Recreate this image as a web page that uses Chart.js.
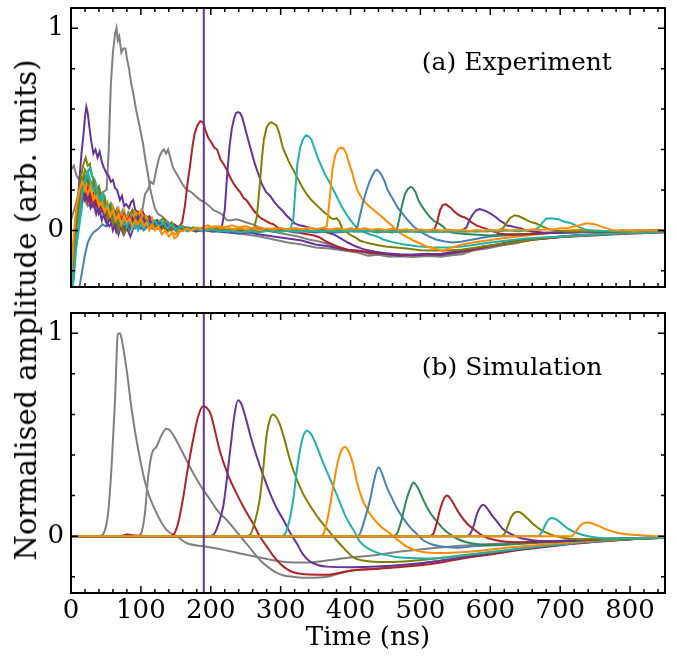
<!DOCTYPE html>
<html>
<head>
<meta charset="utf-8">
<script src="https://cdn.jsdelivr.net/npm/chart.js@4.4.0/dist/chart.umd.min.js"></script>
<style>
  body { margin: 0; background: #fff; }
  #wrap { position: relative; width: 677px; height: 657px; }
  #topPanel { position: absolute; left: 0; top: 0; }
  #botPanel { position: absolute; left: 0; top: 300px; }
  #ylab {
    position: absolute; left: 26px; top: 310px;
    transform: translate(-50%, -50%) rotate(-90deg);
    font-family: 'DejaVu Serif'; font-size: 29px; white-space: nowrap; color: #000;
  }
</style>
</head>
<body>
<div id="wrap">
  <canvas id="topPanel" width="677" height="300"></canvas>
  <canvas id="botPanel" width="677" height="357"></canvas>
  <div id="ylab">Normalised amplitude (arb. units)</div>
</div>
<script>
// Axis ranges and tick labels
const timeRange = [0, 850];
const ampRange = [-0.28, 1.1];
const xTickLabels = [0, 100, 200, 300, 400, 500, 600, 700, 800];
const yTickLabels = [0, 1];
const markerTime = 190;
const panelLabelAt = [502, 0.795];

// Colours of the successive pulses
const C = {
  gray: '#808080', purple: '#663399', red: '#b22222', olive: '#808000',
  teal: '#20b2aa', orange: '#ff8c00', blue: '#4682b4', green: '#2e8b57'
};

// ---- (a) Experiment: [time ns, amplitude] ----
const expGray1 = [[0,0.3],[4,0.32],[8,0.27],[12,0.25],[16,0.22],[22,0.24],[28,0.2],[34,0.22],[40,0.18],[46,0.19],[51,0.2],[54,0.4],[57,0.72],[60,0.88],[63,0.97],[65,1.0],[67,0.94],[69,0.96],[72,0.88],[75,0.9],[78,0.9],[80,0.85],[83,0.8],[86,0.73],[89,0.68],[93,0.6],[96,0.55],[99,0.5],[103,0.43],[106,0.36],[110,0.28],[113,0.21],[117,0.15],[120,0.11],[125,0.08],[130,0.07],[136,0.05],[142,0.03],[150,0.02],[160,0.015],[170,0.01],[180,0.005],[190,0.0],[200,0.0],[215,-0.005],[230,-0.01],[250,-0.02],[270,-0.03],[290,-0.045],[310,-0.06],[330,-0.07],[350,-0.085],[370,-0.09],[390,-0.1],[410,-0.11],[425,-0.125],[440,-0.12],[455,-0.13],[470,-0.128],[490,-0.132],[510,-0.127],[530,-0.13],[545,-0.123],[560,-0.118],[575,-0.1],[595,-0.09],[615,-0.075],[635,-0.065],[655,-0.05],[671,-0.042],[690,-0.035],[710,-0.032],[730,-0.027],[750,-0.025],[770,-0.02],[790,-0.018],[810,-0.015],[830,-0.012],[850,-0.01]];
const expGray2 = [[0,0.05],[6,0.12],[12,0.2],[18,0.16],[24,0.12],[30,0.14],[36,0.1],[42,0.12],[50,0.08],[58,0.1],[66,0.07],[74,0.08],[82,0.05],[90,0.06],[96,0.05],[102,0.1],[106,0.18],[110,0.2],[114,0.24],[118,0.23],[122,0.3],[126,0.36],[130,0.39],[133,0.4],[136,0.38],[139,0.4],[142,0.36],[146,0.31],[151,0.28],[156,0.25],[161,0.22],[166,0.2],[172,0.19],[178,0.17],[185,0.15],[191,0.14],[198,0.12],[204,0.1],[210,0.09],[216,0.08],[223,0.05],[230,0.05],[236,0.055],[242,0.05],[250,0.04],[260,0.03],[270,0.015],[280,0.005],[295,-0.01],[310,-0.02],[325,-0.03],[340,-0.045],[355,-0.055],[370,-0.07],[385,-0.085],[400,-0.1],[415,-0.105],[430,-0.118],[445,-0.12],[460,-0.125],[480,-0.122],[500,-0.125],[520,-0.12],[540,-0.122],[560,-0.11],[580,-0.095],[600,-0.082],[620,-0.07],[640,-0.058],[660,-0.046],[680,-0.04],[700,-0.033],[720,-0.03],[745,-0.025],[770,-0.02],[795,-0.017],[820,-0.013],[850,-0.008]];
const expPurple1 = [[0,-0.26],[3,-0.15],[6,0.0],[9,0.1],[12,0.25],[15,0.38],[18,0.48],[20,0.56],[22,0.61],[24,0.58],[26,0.52],[29,0.44],[32,0.38],[35,0.4],[38,0.36],[41,0.39],[44,0.34],[47,0.31],[51,0.28],[54,0.27],[57,0.24],[60,0.25],[63,0.21],[66,0.2],[70,0.15],[73,0.17],[76,0.12],[79,0.13],[83,0.11],[86,0.14],[89,0.15],[92,0.1],[96,0.09],[99,0.07],[103,0.09],[107,0.06],[112,0.07],[117,0.04],[122,0.05],[127,0.03],[133,0.04],[140,0.02],[148,0.025],[156,0.01],[165,0.015],[175,0.005],[185,0.01],[195,0.0],[210,-0.005],[225,-0.01],[240,-0.015],[255,-0.01],[270,-0.02],[290,-0.03],[310,-0.04],[330,-0.05],[350,-0.07],[370,-0.08],[390,-0.095],[410,-0.1],[430,-0.11],[450,-0.115],[470,-0.125],[490,-0.12],[510,-0.118],[530,-0.115],[550,-0.105],[570,-0.095],[590,-0.08],[610,-0.07],[630,-0.055],[650,-0.045],[670,-0.04],[690,-0.035],[710,-0.028],[735,-0.022],[760,-0.02],[785,-0.016],[810,-0.012],[850,-0.008]];
const expRed1 = [[0,-0.3],[4,-0.12],[8,0.05],[12,0.14],[16,0.2],[20,0.17],[24,0.22],[28,0.15],[32,0.18],[36,0.12],[40,0.14],[45,0.1],[50,0.12],[55,0.07],[60,0.09],[65,0.05],[70,0.08],[76,0.04],[82,0.07],[88,0.1],[94,0.06],[100,0.08],[106,0.04],[112,0.06],[118,0.03],[124,0.05],[130,0.02],[136,0.035],[142,0.015],[148,0.03],[154,0.01],[159,0.04],[163,0.12],[167,0.24],[170,0.31],[174,0.42],[177,0.48],[181,0.52],[185,0.54],[189,0.535],[192,0.5],[196,0.46],[200,0.44],[205,0.41],[209,0.4],[214,0.35],[218,0.33],[223,0.3],[228,0.26],[233,0.23],[237,0.21],[242,0.19],[247,0.16],[251,0.15],[256,0.125],[261,0.1],[266,0.08],[270,0.065],[275,0.055],[280,0.045],[285,0.035],[290,0.03],[295,0.015],[300,0.01],[308,0.0],[316,-0.005],[324,-0.01],[332,-0.015],[340,-0.02],[348,-0.025],[356,-0.035],[365,-0.055],[375,-0.07],[385,-0.085],[399,-0.1],[415,-0.105],[430,-0.11],[450,-0.115],[470,-0.12],[490,-0.123],[510,-0.118],[530,-0.12],[550,-0.11],[570,-0.1],[590,-0.085],[610,-0.072],[630,-0.06],[650,-0.05],[670,-0.042],[690,-0.036],[710,-0.03],[735,-0.025],[760,-0.02],[785,-0.015],[810,-0.012],[850,-0.008]];
const expPurple2 = [[0,-0.28],[4,-0.1],[8,0.08],[12,0.18],[16,0.25],[20,0.21],[24,0.16],[28,0.19],[32,0.12],[36,0.14],[40,0.08],[45,0.1],[50,0.04],[55,0.02],[60,0.05],[65,-0.01],[70,0.03],[75,-0.02],[80,0.01],[85,-0.03],[90,0.02],[95,0.05],[100,0.01],[105,0.04],[110,0.02],[116,0.05],[122,0.03],[128,0.04],[134,0.02],[140,0.03],[148,0.01],[156,0.02],[164,0.0],[172,0.01],[180,-0.005],[190,0.005],[200,0.0],[210,0.005],[216,0.02],[220,0.1],[224,0.3],[227,0.42],[230,0.5],[233,0.55],[236,0.58],[239,0.585],[242,0.58],[245,0.56],[248,0.52],[251,0.48],[255,0.43],[259,0.38],[263,0.33],[268,0.28],[273,0.23],[279,0.19],[285,0.17],[290,0.145],[296,0.12],[302,0.1],[308,0.075],[314,0.055],[320,0.035],[327,0.025],[334,0.02],[340,0.015],[346,0.01],[356,0.0],[366,-0.01],[376,-0.02],[386,-0.04],[396,-0.06],[408,-0.08],[420,-0.095],[435,-0.105],[450,-0.113],[470,-0.118],[490,-0.12],[510,-0.116],[530,-0.12],[550,-0.108],[570,-0.095],[590,-0.082],[610,-0.07],[630,-0.058],[650,-0.048],[670,-0.04],[690,-0.034],[710,-0.028],[735,-0.023],[760,-0.018],[785,-0.014],[810,-0.011],[850,-0.007]];
const expOlive1 = [[0,-0.29],[4,-0.1],[8,0.08],[12,0.2],[15,0.28],[18,0.33],[21,0.36],[24,0.32],[27,0.33],[30,0.27],[33,0.25],[36,0.2],[40,0.22],[44,0.15],[48,0.17],[52,0.1],[56,0.13],[60,0.08],[64,0.05],[68,0.09],[72,0.04],[76,0.07],[80,0.02],[84,0.06],[88,0.1],[92,0.06],[96,0.09],[100,0.05],[105,0.07],[110,0.03],[115,0.06],[120,0.02],[126,0.04],[132,0.06],[138,0.02],[144,0.04],[150,0.01],[158,0.025],[166,0.005],[175,0.015],[185,0.0],[195,0.01],[205,0.005],[215,0.012],[225,0.0],[235,0.008],[245,0.0],[255,0.005],[262,0.01],[266,0.07],[270,0.22],[273,0.35],[276,0.45],[280,0.51],[284,0.53],[287,0.535],[291,0.525],[294,0.52],[298,0.48],[303,0.41],[308,0.37],[313,0.33],[318,0.3],[324,0.26],[330,0.22],[337,0.18],[344,0.15],[350,0.13],[356,0.11],[362,0.09],[368,0.075],[372,0.06],[376,0.055],[380,0.06],[384,0.045],[389,0.0],[395,-0.01],[401,-0.025],[407,-0.035],[413,-0.05],[420,-0.058],[428,-0.065],[438,-0.072],[450,-0.08],[465,-0.085],[480,-0.09],[500,-0.098],[520,-0.1],[540,-0.1],[560,-0.095],[580,-0.085],[600,-0.075],[620,-0.065],[640,-0.055],[660,-0.045],[680,-0.038],[700,-0.032],[725,-0.026],[750,-0.021],[775,-0.017],[800,-0.013],[825,-0.01],[850,-0.007]];
const expTeal1 = [[0,-0.3],[4,-0.25],[7,-0.1],[11,0.0],[15,0.1],[19,0.2],[23,0.28],[27,0.31],[30,0.27],[34,0.25],[38,0.2],[42,0.17],[46,0.18],[50,0.12],[54,0.1],[58,0.13],[62,0.08],[66,0.11],[70,0.07],[74,0.1],[78,0.05],[82,0.09],[86,0.06],[90,0.08],[94,0.04],[98,0.07],[102,0.03],[107,0.06],[112,0.02],[117,0.05],[122,0.03],[128,0.05],[134,0.02],[140,0.035],[146,0.01],[152,0.02],[160,0.0],[168,0.015],[176,0.005],[186,0.01],[196,0.0],[206,-0.005],[216,0.005],[226,-0.01],[236,0.0],[246,-0.005],[256,0.0],[266,0.005],[276,0.0],[286,0.005],[296,0.0],[306,0.005],[314,0.01],[318,0.05],[321,0.2],[324,0.33],[328,0.41],[332,0.45],[336,0.47],[340,0.465],[344,0.45],[348,0.41],[353,0.36],[358,0.32],[363,0.28],[368,0.25],[374,0.21],[380,0.17],[387,0.12],[394,0.08],[400,0.05],[406,0.025],[413,0.0],[420,-0.01],[428,-0.02],[438,-0.03],[447,-0.045],[460,-0.058],[475,-0.068],[495,-0.078],[515,-0.083],[540,-0.085],[560,-0.08],[580,-0.07],[600,-0.06],[625,-0.05],[650,-0.04],[675,-0.035],[700,-0.03],[725,-0.025],[750,-0.02],[775,-0.016],[800,-0.012],[825,-0.009],[850,-0.006]];
const expOrange1 = [[0,-0.28],[4,-0.05],[8,0.1],[12,0.18],[16,0.22],[20,0.19],[24,0.25],[28,0.2],[32,0.16],[36,0.19],[40,0.13],[44,0.16],[48,0.11],[52,0.14],[56,0.09],[60,0.12],[64,0.08],[68,0.11],[72,0.06],[76,0.1],[80,0.05],[84,0.08],[88,0.04],[92,0.09],[96,0.07],[100,0.1],[104,0.05],[108,0.07],[112,0.03],[116,0.06],[120,0.02],[124,0.04],[128,0.0],[133,0.03],[138,-0.01],[143,0.02],[148,-0.04],[152,-0.03],[156,0.0],[162,0.01],[168,-0.005],[175,0.01],[182,0.0],[190,0.02],[196,0.025],[202,0.015],[210,0.02],[220,0.015],[230,0.025],[240,0.015],[250,0.02],[260,0.01],[270,0.015],[280,0.0],[290,0.01],[300,0.005],[310,0.0],[320,0.01],[330,0.005],[340,0.015],[350,0.005],[360,0.01],[366,0.02],[370,0.15],[374,0.3],[378,0.37],[382,0.4],[386,0.41],[390,0.405],[394,0.38],[398,0.33],[402,0.29],[406,0.24],[411,0.19],[416,0.16],[423,0.13],[430,0.11],[437,0.09],[444,0.07],[452,0.045],[460,0.02],[466,0.0],[474,-0.02],[482,-0.035],[490,-0.05],[500,-0.065],[509,-0.08],[520,-0.09],[532,-0.1],[545,-0.085],[560,-0.07],[575,-0.06],[595,-0.05],[615,-0.04],[640,-0.03],[665,-0.02],[690,-0.01],[710,0.0],[730,0.005],[750,0.0],[775,-0.005],[800,-0.005],[825,-0.003],[850,-0.002]];
const expBlue1 = [[0,-0.35],[8,-0.33],[12,-0.28],[16,-0.2],[20,-0.12],[24,-0.06],[28,-0.03],[32,-0.01],[36,0.0],[40,0.01],[45,0.03],[50,0.02],[55,0.05],[60,0.04],[65,0.06],[70,0.03],[75,0.05],[80,0.02],[86,0.04],[92,0.01],[98,0.03],[104,0.0],[110,0.02],[116,0.01],[122,0.03],[128,0.0],[134,0.02],[140,0.0],[146,0.01],[152,-0.01],[160,0.0],[170,0.01],[180,0.0],[190,0.005],[200,-0.005],[215,0.0],[230,-0.01],[245,-0.005],[260,-0.01],[275,0.0],[290,-0.005],[305,0.0],[320,-0.01],[335,-0.005],[350,-0.01],[365,-0.005],[380,-0.01],[395,-0.005],[405,0.0],[410,0.02],[414,0.08],[418,0.14],[423,0.2],[427,0.24],[431,0.27],[435,0.295],[438,0.3],[441,0.29],[445,0.27],[449,0.24],[453,0.2],[458,0.17],[463,0.14],[468,0.11],[475,0.08],[482,0.05],[490,0.02],[497,0.0],[504,-0.015],[512,-0.03],[522,-0.045],[535,-0.055],[547,-0.06],[560,-0.055],[575,-0.045],[599,-0.03],[620,-0.025],[645,-0.02],[670,-0.015],[700,-0.01],[730,-0.008],[760,-0.005],[790,-0.003],[820,-0.002],[850,0.0]];
const expGreen1 = [[0,-0.25],[4,-0.08],[8,0.07],[12,0.16],[16,0.22],[20,0.27],[24,0.24],[28,0.21],[32,0.23],[36,0.17],[40,0.2],[44,0.13],[48,0.15],[52,0.1],[56,0.12],[60,0.06],[64,0.09],[68,0.03],[72,0.05],[76,0.01],[80,0.04],[84,0.0],[88,0.03],[92,0.05],[96,0.02],[100,0.06],[104,0.03],[108,0.05],[113,0.02],[118,0.04],[124,0.01],[130,0.03],[136,0.0],[142,0.02],[150,0.005],[158,0.015],[166,0.0],[176,0.01],[186,0.005],[198,0.0],[210,0.008],[222,0.0],[234,0.006],[246,0.0],[258,0.005],[270,-0.005],[282,0.005],[294,0.0],[306,0.005],[318,-0.005],[330,0.0],[342,-0.005],[354,0.0],[366,-0.01],[378,0.0],[390,-0.005],[402,0.0],[414,-0.005],[426,0.0],[438,-0.01],[450,-0.005],[460,-0.01],[466,0.0],[470,0.06],[474,0.13],[478,0.18],[482,0.205],[486,0.215],[489,0.21],[493,0.19],[497,0.15],[502,0.12],[508,0.09],[514,0.065],[520,0.045],[526,0.035],[532,0.02],[538,0.0],[545,-0.01],[555,-0.015],[575,-0.02],[600,-0.025],[625,-0.02],[650,-0.018],[680,-0.012],[710,-0.008],[740,-0.006],[770,-0.004],[800,-0.003],[830,-0.001],[850,0.0]];
const expRed2 = [[0,-0.3],[4,-0.15],[8,0.0],[12,0.1],[16,0.15],[20,0.18],[24,0.14],[28,0.17],[32,0.12],[36,0.15],[40,0.1],[44,0.13],[48,0.08],[52,0.11],[56,0.07],[60,0.1],[64,0.06],[68,0.09],[72,0.05],[76,0.08],[80,0.04],[84,0.07],[88,0.03],[92,0.06],[96,0.03],[100,0.05],[105,0.02],[110,0.04],[115,0.02],[120,0.03],[126,0.01],[132,0.02],[138,0.0],[146,0.015],[154,0.0],[164,0.01],[174,0.0],[186,0.005],[198,0.0],[212,0.006],[226,0.0],[240,0.005],[255,-0.002],[270,0.004],[285,0.0],[300,0.005],[315,-0.003],[330,0.003],[345,-0.004],[360,0.002],[375,-0.003],[390,0.002],[405,-0.005],[420,0.0],[435,-0.005],[450,0.0],[465,-0.006],[480,0.0],[495,-0.005],[510,0.0],[520,0.005],[524,0.04],[528,0.1],[532,0.125],[536,0.13],[540,0.12],[544,0.11],[548,0.095],[553,0.08],[558,0.07],[563,0.065],[568,0.055],[573,0.04],[580,0.025],[588,0.015],[596,0.005],[604,-0.005],[613,-0.015],[623,-0.02],[640,-0.02],[660,-0.018],[680,-0.014],[705,-0.01],[730,-0.008],[760,-0.005],[790,-0.003],[820,-0.002],[850,0.0]];
const expPurple3 = [[0,-0.27],[4,-0.05],[8,0.1],[12,0.16],[16,0.2],[20,0.15],[24,0.18],[28,0.11],[32,0.14],[36,0.08],[40,0.12],[44,0.05],[48,0.09],[52,0.03],[56,0.07],[60,0.0],[64,0.04],[68,-0.02],[72,0.03],[76,0.0],[80,0.05],[84,0.02],[88,0.06],[92,0.03],[96,0.07],[100,0.04],[104,0.06],[108,0.02],[113,0.05],[118,0.01],[124,0.04],[130,0.01],[136,0.03],[142,0.0],[150,0.02],[158,0.0],[168,0.01],[178,-0.005],[190,0.005],[202,-0.005],[215,0.0],[230,-0.005],[245,0.0],[260,-0.008],[275,0.0],[290,-0.005],[305,0.0],[320,-0.006],[335,0.0],[350,-0.005],[365,0.0],[380,-0.006],[395,0.0],[410,-0.004],[425,0.0],[440,-0.005],[455,0.0],[470,-0.006],[485,0.0],[500,-0.005],[515,0.0],[530,-0.005],[545,0.0],[558,-0.003],[566,0.015],[570,0.05],[575,0.08],[580,0.1],[585,0.105],[590,0.1],[594,0.095],[599,0.085],[604,0.075],[608,0.065],[613,0.05],[618,0.04],[623,0.025],[630,0.02],[637,0.015],[644,0.01],[651,0.0],[660,-0.005],[675,-0.01],[695,-0.012],[720,-0.01],[745,-0.008],[775,-0.005],[805,-0.003],[830,-0.002],[850,0.0]];
const expOlive2 = [[0,-0.3],[4,-0.12],[8,0.05],[12,0.15],[16,0.24],[20,0.3],[24,0.27],[28,0.22],[32,0.25],[36,0.18],[40,0.2],[44,0.12],[48,0.15],[52,0.06],[56,0.1],[60,0.03],[64,0.07],[68,0.0],[72,0.04],[76,-0.02],[80,0.02],[84,0.05],[88,0.02],[92,0.06],[96,0.03],[100,0.05],[104,0.02],[110,0.04],[116,0.01],[122,0.03],[128,0.0],[134,0.02],[140,0.0],[148,0.015],[156,0.0],[166,0.01],[176,0.0],[188,0.008],[200,0.0],[214,0.005],[228,-0.002],[242,0.004],[256,0.0],[270,0.005],[284,-0.003],[298,0.003],[312,-0.004],[326,0.002],[340,-0.004],[354,0.0],[368,-0.005],[382,0.0],[396,-0.005],[410,-0.002],[424,-0.006],[438,-0.002],[452,-0.006],[466,-0.003],[480,-0.007],[494,-0.004],[508,-0.007],[522,-0.004],[536,-0.007],[550,-0.004],[565,-0.006],[580,-0.003],[595,-0.005],[610,0.0],[618,0.01],[622,0.03],[628,0.06],[635,0.075],[641,0.07],[647,0.06],[653,0.05],[659,0.04],[665,0.035],[671,0.025],[678,0.015],[685,0.005],[695,0.0],[710,-0.005],[730,-0.006],[755,-0.005],[780,-0.004],[810,-0.002],[850,0.0]];
const expTeal2 = [[0,-0.3],[4,-0.2],[8,-0.05],[12,0.08],[16,0.18],[20,0.25],[24,0.29],[28,0.24],[32,0.2],[36,0.22],[40,0.15],[44,0.17],[48,0.11],[52,0.13],[56,0.08],[60,0.1],[64,0.05],[68,0.08],[72,0.03],[76,0.06],[80,0.02],[84,0.05],[88,0.01],[92,0.04],[96,0.0],[100,0.03],[105,0.01],[110,0.04],[115,0.02],[120,0.05],[126,0.02],[132,0.04],[138,0.01],[144,0.03],[150,0.0],[158,0.02],[166,-0.005],[176,0.01],[188,-0.005],[200,0.005],[214,-0.005],[228,0.0],[242,-0.01],[256,-0.003],[270,-0.01],[284,0.0],[298,-0.008],[312,0.0],[326,-0.006],[340,0.0],[354,-0.004],[368,0.0],[382,-0.005],[396,-0.002],[410,-0.006],[424,-0.002],[438,-0.007],[452,-0.003],[466,-0.008],[480,-0.004],[494,-0.008],[508,-0.004],[522,-0.008],[536,-0.004],[550,-0.007],[565,-0.003],[580,-0.006],[595,-0.002],[610,-0.005],[625,-0.001],[640,-0.004],[655,0.0],[665,0.005],[670,0.015],[675,0.04],[680,0.058],[686,0.06],[692,0.058],[698,0.055],[704,0.045],[710,0.04],[716,0.035],[722,0.025],[728,0.015],[735,0.005],[745,0.0],[760,-0.002],[780,-0.003],[810,-0.002],[850,0.0]];
const expOrange2 = [[0,-0.25],[4,-0.02],[8,0.12],[12,0.2],[16,0.24],[20,0.21],[24,0.18],[28,0.22],[32,0.15],[36,0.17],[40,0.12],[44,0.14],[48,0.09],[52,0.12],[56,0.07],[60,0.1],[64,0.05],[68,0.08],[72,0.03],[76,0.07],[80,0.04],[84,0.06],[88,0.02],[92,0.05],[96,0.03],[100,0.06],[104,0.02],[108,0.04],[112,0.0],[116,0.03],[120,0.0],[125,0.02],[130,-0.02],[135,0.0],[140,-0.03],[145,-0.01],[150,-0.02],[155,0.0],[160,-0.005],[166,0.01],[172,0.0],[180,0.015],[188,0.005],[196,0.01],[205,0.02],[214,0.01],[223,0.015],[232,0.005],[241,0.012],[250,0.005],[260,0.01],[270,0.0],[280,0.01],[290,0.005],[300,0.012],[310,0.004],[320,0.012],[330,0.005],[340,0.012],[350,0.006],[360,0.012],[370,0.005],[380,0.01],[390,0.003],[400,0.01],[410,0.004],[420,0.01],[430,0.003],[440,0.008],[450,0.002],[460,0.008],[470,0.002],[480,0.006],[490,0.0],[500,0.006],[510,0.0],[520,0.005],[530,-0.002],[540,0.004],[550,-0.002],[560,0.003],[570,-0.003],[580,0.002],[590,-0.002],[600,0.003],[610,0.0],[620,0.004],[630,0.0],[640,0.004],[650,0.0],[660,0.005],[670,0.002],[680,0.006],[690,0.005],[700,0.01],[709,0.01],[718,0.018],[728,0.025],[737,0.035],[747,0.032],[755,0.025],[761,0.015],[768,0.01],[776,0.0],[790,0.002],[805,-0.002],[820,0.002],[835,-0.001],[850,0.002]];

// ---- (b) Simulation: [time ns, amplitude] ----
const simGray1 = [[0,0],[40,0],[46,0.01],[53,0.11],[58,0.34],[63,0.67],[67,0.995],[70,1.0],[72,0.98],[80,0.81],[87,0.62],[96,0.43],[108,0.24],[123,0.11],[137,0.03],[151,0.0],[166,-0.035],[190,-0.05],[215,-0.065],[242,-0.085],[270,-0.105],[300,-0.125],[320,-0.13],[345,-0.128],[366,-0.12],[399,-0.105],[437,-0.093],[461,-0.08],[509,-0.062],[557,-0.047],[600,-0.038],[650,-0.03],[700,-0.023],[750,-0.017],[800,-0.012],[850,-0.007]];
const simGray2 = [[0,0],[95,0],[101,0.02],[106,0.12],[110,0.28],[116,0.41],[122,0.44],[130,0.5],[136,0.53],[142,0.52],[151,0.47],[163,0.39],[175,0.31],[187,0.24],[199,0.18],[211,0.12],[223,0.08],[235,0.03],[247,-0.02],[259,-0.07],[271,-0.12],[283,-0.155],[294,-0.18],[306,-0.195],[318,-0.2],[340,-0.205],[366,-0.2],[399,-0.17],[438,-0.16],[470,-0.15],[510,-0.13],[560,-0.105],[600,-0.085],[650,-0.06],[700,-0.04],[750,-0.025],[800,-0.015],[850,-0.008]];
const simRed1 = [[0,0],[70,0],[80,0.008],[90,0.004],[140,0],[146,0.005],[153,0.06],[160,0.18],[167,0.33],[175,0.48],[182,0.59],[189,0.64],[195,0.63],[200,0.6],[206,0.52],[213,0.42],[225,0.3],[237,0.21],[249,0.13],[261,0.06],[270,0.0],[280,-0.05],[290,-0.1],[299,-0.135],[308,-0.16],[318,-0.178],[335,-0.188],[366,-0.19],[385,-0.18],[400,-0.17],[440,-0.16],[480,-0.15],[520,-0.135],[560,-0.11],[600,-0.09],[650,-0.065],[700,-0.045],[750,-0.028],[800,-0.016],[850,-0.008]];
const simPurple1 = [[0,0],[195,0],[203,0.005],[210,0.05],[218,0.15],[223,0.28],[228,0.43],[234,0.6],[239,0.67],[244,0.65],[251,0.57],[258,0.48],[266,0.39],[275,0.3],[285,0.21],[294,0.14],[304,0.08],[313,0.02],[323,-0.035],[332,-0.09],[342,-0.125],[354,-0.143],[366,-0.15],[400,-0.153],[438,-0.15],[480,-0.14],[520,-0.125],[560,-0.105],[600,-0.085],[650,-0.062],[700,-0.042],[750,-0.027],[800,-0.015],[850,-0.008]];
const simOlive1 = [[0,0],[250,0],[256,0.005],[263,0.07],[270,0.18],[275,0.33],[280,0.5],[285,0.58],[289,0.6],[294,0.585],[299,0.55],[306,0.47],[313,0.38],[322,0.29],[332,0.21],[344,0.14],[356,0.08],[368,0.03],[380,-0.02],[392,-0.065],[404,-0.105],[418,-0.12],[440,-0.127],[461,-0.127],[509,-0.115],[550,-0.1],[600,-0.08],[650,-0.058],[700,-0.04],[750,-0.025],[800,-0.014],[850,-0.007]];
const simTeal1 = [[0,0],[300,0],[306,0.01],[312,0.07],[318,0.18],[323,0.32],[328,0.43],[333,0.5],[338,0.52],[344,0.5],[352,0.44],[361,0.36],[371,0.28],[382,0.19],[394,0.09],[406,0.02],[413,-0.025],[425,-0.06],[437,-0.08],[450,-0.092],[461,-0.1],[485,-0.108],[509,-0.11],[535,-0.105],[557,-0.095],[600,-0.078],[650,-0.058],[700,-0.04],[750,-0.025],[800,-0.014],[850,-0.007]];
const simOrange1 = [[0,0],[355,0],[361,0.01],[368,0.1],[375,0.24],[382,0.37],[388,0.43],[392,0.44],[397,0.42],[404,0.35],[409,0.27],[416,0.19],[424,0.13],[432,0.09],[444,0.045],[456,0.015],[468,-0.02],[480,-0.05],[492,-0.068],[504,-0.078],[528,-0.083],[552,-0.08],[590,-0.07],[630,-0.055],[680,-0.04],[730,-0.026],[780,-0.015],[850,-0.007]];
const simBlue1 = [[0,0],[408,0],[413,0.01],[420,0.08],[428,0.18],[434,0.28],[440,0.34],[446,0.3],[452,0.24],[459,0.19],[466,0.14],[475,0.09],[485,0.045],[495,0.01],[504,-0.02],[516,-0.04],[528,-0.05],[552,-0.057],[575,-0.05],[620,-0.04],[670,-0.03],[720,-0.02],[780,-0.012],[850,-0.006]];
const simGreen1 = [[0,0],[460,0],[466,0.01],[473,0.08],[480,0.18],[486,0.24],[490,0.265],[496,0.24],[504,0.18],[513,0.12],[523,0.075],[533,0.035],[542,0.01],[554,-0.015],[566,-0.03],[582,-0.04],[599,-0.045],[632,-0.04],[680,-0.03],[730,-0.02],[790,-0.011],[850,-0.006]];
const simRed2 = [[0,0],[512,0],[518,0.01],[523,0.06],[528,0.13],[533,0.18],[538,0.2],[543,0.185],[549,0.15],[557,0.105],[566,0.065],[578,0.03],[590,0.0],[605,-0.018],[623,-0.028],[650,-0.03],[680,-0.028],[720,-0.02],[780,-0.012],[850,-0.006]];
const simPurple2 = [[0,0],[565,0],[571,0.01],[576,0.05],[581,0.11],[586,0.145],[590,0.155],[595,0.14],[602,0.105],[610,0.07],[618,0.035],[630,0.01],[642,-0.008],[660,-0.02],[680,-0.025],[720,-0.022],[780,-0.013],[850,-0.006]];
const simOlive2 = [[0,0],[614,0],[620,0.01],[625,0.05],[630,0.095],[636,0.118],[640,0.12],[646,0.11],[654,0.085],[663,0.055],[673,0.03],[685,0.01],[700,-0.005],[728,-0.015],[770,-0.015],[850,-0.006]];
const simTeal2 = [[0,0],[668,0],[673,0.015],[678,0.05],[683,0.08],[688,0.09],[693,0.085],[700,0.068],[710,0.04],[722,0.018],[740,0.0],[766,-0.01],[810,-0.01],[850,-0.006]];
const simOrange2 = [[0,0],[716,0],[721,0.015],[727,0.045],[733,0.063],[738,0.068],[745,0.064],[754,0.052],[765,0.035],[780,0.018],[800,0.008],[825,0.002],[850,-0.002]];

const expCurves = [
  [expGray1, C.gray], [expGray2, C.gray], [expPurple1, C.purple], [expRed1, C.red],
  [expPurple2, C.purple], [expOlive1, C.olive], [expTeal1, C.teal], [expOrange1, C.orange],
  [expBlue1, C.blue], [expGreen1, C.green], [expRed2, C.red], [expPurple3, C.purple],
  [expOlive2, C.olive], [expTeal2, C.teal], [expOrange2, C.orange]
];
const simCurves = [
  [simGray1, C.gray], [simGray2, C.gray], [simRed1, C.red], [simPurple1, C.purple],
  [simOlive1, C.olive], [simTeal1, C.teal], [simOrange1, C.orange], [simBlue1, C.blue],
  [simGreen1, C.green], [simRed2, C.red], [simPurple2, C.purple], [simOlive2, C.olive],
  [simTeal2, C.teal], [simOrange2, C.orange]
];

const serif = 'DejaVu Serif';

// Build line datasets; later curves are drawn on top
function buildDatasets(curves, smooth) {
  const n = curves.length;
  const sets = curves.map(([data, color], i) => ({
    data: data.map(([x, y]) => ({ x, y })),
    borderColor: color,
    borderWidth: 2,
    pointRadius: 0,
    fill: false,
    tension: smooth ? 0.4 : 0,
    cubicInterpolationMode: smooth ? 'monotone' : 'default',
    order: n - i
  }));
  // vertical marker line
  sets.push({
    data: [{ x: markerTime, y: ampRange[0] }, { x: markerTime, y: ampRange[1] }],
    borderColor: C.purple, borderWidth: 2, pointRadius: 0, fill: false, order: -1
  });
  return sets;
}

// Inward ticks on all four sides, the frame and the panel label
const axesFrame = {
  id: 'axesFrame',
  afterDraw(chart, args, opts) {
    const { ctx, chartArea: a } = chart;
    const x = chart.scales.x, y = chart.scales.y;
    ctx.save();
    ctx.strokeStyle = '#000';
    ctx.lineWidth = 1.5;
    ctx.beginPath();
    for (let t = timeRange[0]; t <= timeRange[1]; t += 20) {
      const px = x.getPixelForValue(t);
      const len = t % 100 === 0 ? 7 : 4;
      ctx.moveTo(px, a.bottom); ctx.lineTo(px, a.bottom - len);
      ctx.moveTo(px, a.top); ctx.lineTo(px, a.top + len);
    }
    for (let k = -1; k <= 5; k++) {
      const py = y.getPixelForValue(k * 0.2);
      const len = (k === 0 || k === 5) ? 7 : 4;
      ctx.moveTo(a.left, py); ctx.lineTo(a.left + len, py);
      ctx.moveTo(a.right, py); ctx.lineTo(a.right - len, py);
    }
    ctx.stroke();
    ctx.lineWidth = 2;
    ctx.strokeRect(a.left, a.top, a.right - a.left, a.bottom - a.top);
    ctx.fillStyle = '#000';
    ctx.font = '25px "' + serif + '"';
    ctx.textAlign = 'left';
    ctx.textBaseline = 'alphabetic';
    ctx.fillText(opts.label, x.getPixelForValue(panelLabelAt[0]), y.getPixelForValue(panelLabelAt[1]));
    ctx.restore();
  }
};

function makePanel(id, curves, smooth, label, showX) {
  const ctx = document.getElementById(id).getContext('2d');
  return new Chart(ctx, {
    type: 'line',
    data: { datasets: buildDatasets(curves, smooth) },
    plugins: [axesFrame],
    options: {
      responsive: false,
      animation: false,
      events: [],
      layout: { padding: showX ? { top: 13, right: 12, bottom: 0, left: 0 } : { top: 8, right: 12, bottom: 13, left: 0 } },
      plugins: {
        legend: { display: false },
        tooltip: { enabled: false },
        axesFrame: { label: label }
      },
      scales: {
        x: {
          type: 'linear',
          min: timeRange[0],
          max: timeRange[1],
          display: showX,
          grid: { display: false, drawTicks: false },
          border: { display: false },
          afterBuildTicks: s => { s.ticks = xTickLabels.map(v => ({ value: v })); },
          afterFit: s => { s.height = showX ? 64 : 0; s.paddingLeft = 0; s.paddingRight = 0; },
          ticks: { color: '#000', font: { family: serif, size: 26 }, padding: 3, maxRotation: 0, autoSkip: false },
          title: { display: true, text: 'Time (ns)', color: '#000', font: { family: serif, size: 26 }, padding: { top: 0, bottom: 3 } }
        },
        y: {
          min: ampRange[0],
          max: ampRange[1],
          grid: { display: false, drawTicks: false },
          border: { display: false },
          afterBuildTicks: s => { s.ticks = yTickLabels.map(v => ({ value: v })); },
          afterFit: s => { s.width = 71; s.paddingTop = 0; s.paddingBottom = 0; },
          ticks: { color: '#000', font: { family: serif, size: 26 }, padding: 7 }
        }
      }
    }
  });
}

makePanel('topPanel', expCurves, false, '(a) Experiment', false);
makePanel('botPanel', simCurves, true, '(b) Simulation', true);
</script>
</body>
</html>
